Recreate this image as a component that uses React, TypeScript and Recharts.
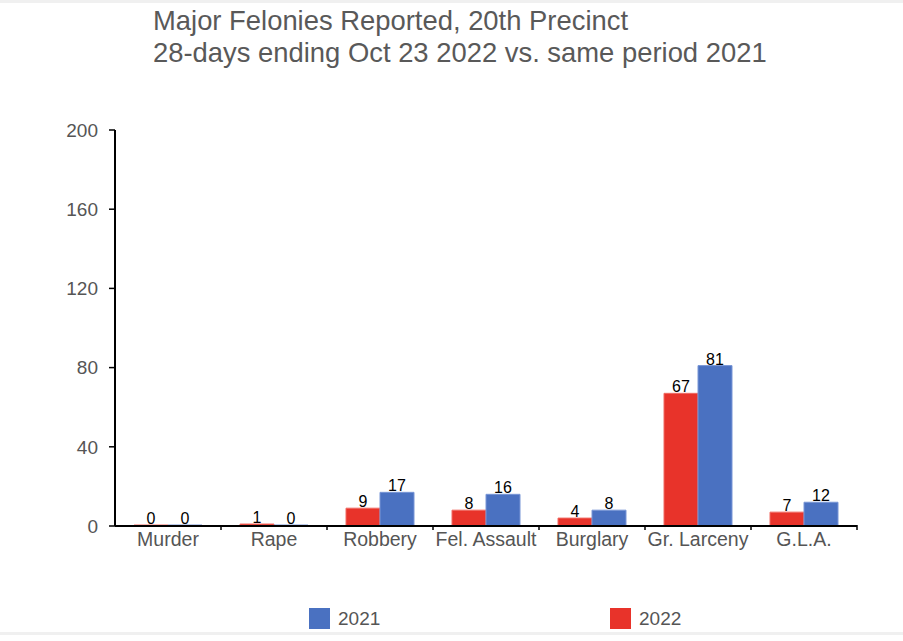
import React from "react";
import { BarChart, Bar, XAxis, YAxis, LabelList } from "recharts";

const categories = ["Murder", "Rape", "Robbery", "Fel. Assault", "Burglary", "Gr. Larceny", "G.L.A."];
const values2022 = [0, 1, 9, 8, 4, 67, 7];
const values2021 = [0, 0, 17, 16, 8, 81, 12];
const yTicks = [0, 40, 80, 120, 160, 200];
const titleLines = ["Major Felonies Reported, 20th Precinct", "28-days ending Oct 23 2022 vs. same period 2021"];
const seriesNames = { y2021: "2021", y2022: "2022" };

const RED = "#E8332A";
const BLUE = "#4A71C1";
const FONT = "'Liberation Sans', Arial, sans-serif";

const data = categories.map((c, i) => ({ name: c, y2022: values2022[i], y2021: values2021[i] }));

const XTick = (props: any) => {
  const { x, y, payload } = props;
  const half = payload && payload.offset ? payload.offset : 53;
  return (
    <g>
      <line x1={x + half} x2={x + half} y1={y - 9} y2={y - 4} stroke="#000" strokeWidth={1.5} />
      <text x={x} y={y} dy={12} textAnchor="middle" fill="#555" fontSize={19.5} fontFamily={FONT}>
        {payload.value}
      </text>
    </g>
  );
};

export default function App() {
  return (
    <div style={{ position: "absolute", left: 0, top: 0, width: 903, height: 641, background: "#fff", fontFamily: FONT }}>
      <div style={{ position: "absolute", left: 0, top: 0, width: 903, height: 3, background: "#f0f0f0" }} />
      <div style={{ position: "absolute", left: 0, top: 632, width: 903, height: 3, background: "#f0f0f0" }} />
      <div style={{ position: "absolute", left: 153, top: 5, color: "#595959", fontSize: 27.4, lineHeight: "32px", whiteSpace: "nowrap" }}>
        {titleLines.map((t) => (
          <div key={t}>{t}</div>
        ))}
      </div>
      <BarChart
        width={903}
        height={641}
        data={data}
        margin={{ top: 130, right: 46, bottom: 85, left: 55 }}
        barSize={34}
        barGap={0}
        style={{ position: "absolute", left: 0, top: 0 }}
      >
        <XAxis
          dataKey="name"
          axisLine={{ stroke: "#000", strokeWidth: 2 }}
          tickLine={false}
          tick={<XTick />}
          height={30}
          interval={0}
        />
        <YAxis
          domain={[0, 200]}
          ticks={yTicks}
          width={60}
          axisLine={{ stroke: "#000", strokeWidth: 2 }}
          tickLine={{ stroke: "#000", strokeWidth: 1.5 }}
          tickSize={6}
          tick={{ fill: "#555", fontSize: 19, fontFamily: FONT }}
          tickMargin={11}
        />
        <Bar dataKey="y2022" name={seriesNames.y2022} fill={RED} stroke="#F06A62" strokeWidth={1} minPointSize={1} isAnimationActive={false}>
          <LabelList dataKey="y2022" position="top" offset={1} fill="#000" fontSize={16} fontFamily={FONT} />
        </Bar>
        <Bar dataKey="y2021" name={seriesNames.y2021} fill={BLUE} stroke="#7896D6" strokeWidth={1} minPointSize={1} isAnimationActive={false}>
          <LabelList dataKey="y2021" position="top" offset={1} fill="#000" fontSize={16} fontFamily={FONT} />
        </Bar>
      </BarChart>
      <div style={{ position: "absolute", left: 309, top: 608, width: 21, height: 21, background: BLUE }} />
      <div style={{ position: "absolute", left: 338, top: 607, fontSize: 19, color: "#555", lineHeight: "24px" }}>{seriesNames.y2021}</div>
      <div style={{ position: "absolute", left: 610, top: 608, width: 21, height: 21, background: RED }} />
      <div style={{ position: "absolute", left: 639, top: 607, fontSize: 19, color: "#555", lineHeight: "24px" }}>{seriesNames.y2022}</div>
    </div>
  );
}
